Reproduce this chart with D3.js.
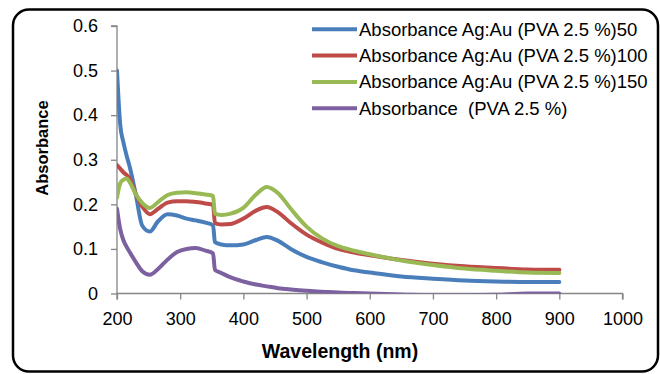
<!DOCTYPE html>
<html>
<head>
<meta charset="utf-8">
<script src="https://cdn.jsdelivr.net/npm/d3@7"></script>
<style>
  html, body { margin: 0; padding: 0; background: #fff; }
  svg { display: block; }
  text { font-family: "Liberation Sans", Arial, sans-serif; fill: #000; }
</style>
</head>
<body>
<svg id="chart" width="660" height="374"></svg>
<script>
// ---- data ----
const wavelengths = [200, 205, 210, 215, 220, 230, 240, 252, 265, 280, 295, 310, 325, 340, 352, 355, 365, 380, 400, 420, 437, 455, 475, 500, 525, 550, 575, 600, 650, 700, 750, 800, 850, 900];
const blue50 = [0.50, 0.38, 0.34, 0.31, 0.285, 0.22, 0.152, 0.139, 0.162, 0.178, 0.175, 0.168, 0.164, 0.159, 0.153, 0.115, 0.110, 0.108, 0.110, 0.120, 0.127, 0.118, 0.100, 0.082, 0.070, 0.060, 0.052, 0.047, 0.038, 0.033, 0.029, 0.027, 0.026, 0.026];
const red100 = [0.288, 0.280, 0.272, 0.266, 0.258, 0.222, 0.195, 0.178, 0.190, 0.204, 0.207, 0.207, 0.205, 0.202, 0.199, 0.158, 0.155, 0.156, 0.168, 0.186, 0.194, 0.182, 0.158, 0.132, 0.114, 0.100, 0.092, 0.086, 0.075, 0.067, 0.061, 0.057, 0.054, 0.053];
const green150 = [0.215, 0.247, 0.255, 0.258, 0.250, 0.222, 0.203, 0.192, 0.205, 0.221, 0.226, 0.227, 0.225, 0.222, 0.219, 0.179, 0.176, 0.179, 0.192, 0.222, 0.239, 0.225, 0.190, 0.150, 0.123, 0.106, 0.096, 0.088, 0.074, 0.064, 0.056, 0.051, 0.047, 0.046];
const purplePVA = [0.190, 0.145, 0.120, 0.105, 0.093, 0.070, 0.050, 0.042, 0.055, 0.076, 0.093, 0.100, 0.102, 0.096, 0.090, 0.053, 0.046, 0.036, 0.027, 0.020, 0.016, 0.012, 0.009, 0.006, 0.004, 0.002, 0.001, 0.000, -0.002, -0.004, -0.004, -0.003, 0.000, 0.000];

const seriesNames = ["Absorbance Ag:Au (PVA 2.5 %)50", "Absorbance Ag:Au (PVA 2.5 %)100", "Absorbance Ag:Au (PVA 2.5 %)150", "Absorbance  (PVA 2.5 %)"];
const seriesValues = [blue50, red100, green150, purplePVA];
const seriesColors = ["#4A7EBB", "#BE4B48", "#98B954", "#7D60A0"];

const xTicks = [200, 300, 400, 500, 600, 700, 800, 900, 1000];
const yTicks = [0, 0.1, 0.2, 0.3, 0.4, 0.5, 0.6];
const xTitle = "Wavelength (nm)";
const yTitle = "Absorbance";

// ---- layout ----
const svg = d3.select("#chart");
const plot = { left: 117, right: 622.5, top: 26, bottom: 293.5 };

const x = d3.scaleLinear().domain([200, 1000]).range([plot.left, plot.right]);
const y = d3.scaleLinear().domain([0, 0.6]).range([plot.bottom, plot.top]);

// frame
svg.append("rect")
  .attr("x", 13).attr("y", 9.5)
  .attr("width", 645).attr("height", 362)
  .attr("rx", 16).attr("ry", 16)
  .attr("fill", "#fff")
  .attr("stroke", "#000").attr("stroke-width", 2.5);

const axisColor = "#868686";

// y axis
const yAxis = svg.append("g")
  .attr("transform", `translate(${plot.left},0)`)
  .call(d3.axisLeft(y).tickValues(yTicks).tickSize(6).tickPadding(13)
    .tickFormat(d => d === 0 ? "0" : d3.format(".1f")(d)));
yAxis.select(".domain").attr("stroke", axisColor).attr("stroke-width", 1.3)
  .attr("d", `M-6,${plot.top}H0V${plot.bottom}`);
yAxis.selectAll(".tick line").attr("stroke", axisColor).attr("stroke-width", 1.3);
yAxis.selectAll(".tick text").attr("font-size", 18).attr("font-family", "Liberation Sans, Arial, sans-serif").attr("fill", "#111");

// x axis
const xAxis = svg.append("g")
  .attr("transform", `translate(0,${plot.bottom})`)
  .call(d3.axisBottom(x).tickValues(xTicks).tickSize(6).tickPadding(13).tickFormat(d3.format("d")));
xAxis.select(".domain").attr("stroke", axisColor).attr("stroke-width", 1.3)
  .attr("d", `M${plot.left},6V0H${plot.right}V6`);
xAxis.selectAll(".tick line").attr("stroke", axisColor).attr("stroke-width", 1.3);
xAxis.selectAll(".tick text").attr("font-size", 18).attr("font-family", "Liberation Sans, Arial, sans-serif").attr("fill", "#111");

// axis titles
svg.append("text")
  .attr("x", 340).attr("y", 358)
  .attr("text-anchor", "middle")
  .attr("font-size", 19.5).attr("font-weight", "bold")
  .attr("fill", "#111")
  .text(xTitle);

svg.append("text")
  .attr("transform", "translate(48,148) rotate(-90)")
  .attr("text-anchor", "middle")
  .attr("font-size", 16.5).attr("font-weight", "bold")
  .attr("fill", "#111")
  .text(yTitle);

// clip
svg.append("clipPath").attr("id", "plotClip")
  .append("rect")
  .attr("x", plot.left).attr("y", plot.top - 10)
  .attr("width", plot.right - plot.left).attr("height", plot.bottom - plot.top + 10);

// lines
const line = d3.line()
  .x(d => x(d[0]))
  .y(d => y(d[1]))
  .curve(d3.curveMonotoneX);

const lines = svg.append("g").attr("clip-path", "url(#plotClip)");
seriesValues.forEach((vals, i) => {
  lines.append("path")
    .datum(wavelengths.map((w, j) => [w, vals[j]]))
    .attr("fill", "none")
    .attr("stroke", seriesColors[i])
    .attr("stroke-width", 4)
    .attr("stroke-linejoin", "round")
    .attr("stroke-linecap", "round")
    .attr("d", line);
});

// legend
const legend = svg.append("g");
const legendY0 = 29.3, legendStep = 26.3;
seriesNames.forEach((name, i) => {
  const ly = legendY0 + i * legendStep;
  legend.append("line")
    .attr("x1", 312).attr("x2", 357)
    .attr("y1", ly).attr("y2", ly)
    .attr("stroke", seriesColors[i]).attr("stroke-width", 4);
  legend.append("text")
    .attr("x", 359).attr("y", ly)
    .attr("dy", "0.35em")
    .attr("font-size", 18.5)
    .attr("fill", "#111")
    .style("white-space", "pre")
    .text(name);
});
</script>
</body>
</html>
